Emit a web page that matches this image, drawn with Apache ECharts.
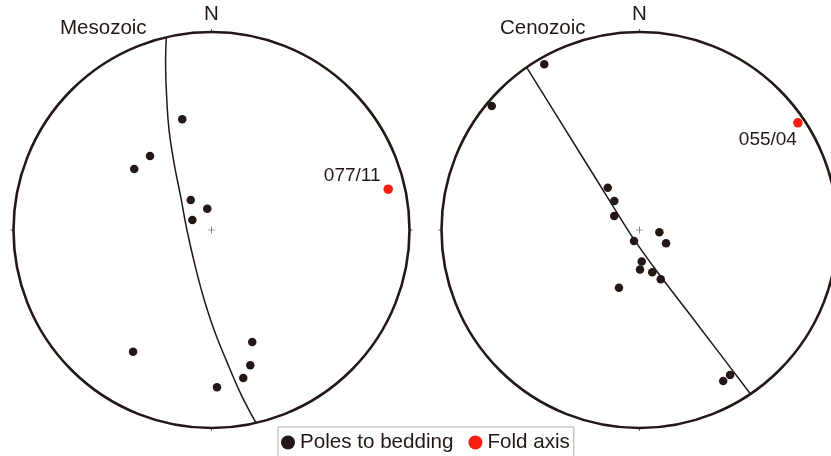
<!DOCTYPE html>
<html>
<head>
<meta charset="utf-8">
<script src="https://cdn.jsdelivr.net/npm/echarts@6/dist/echarts.min.js"></script>
<style>
html,body{margin:0;padding:0;background:#fff;}
#chart{width:831px;height:456px;}
</style>
</head>
<body>
<div id="chart"></div>
<script>
// Data: [normalized radius (0..1), azimuth in degrees clockwise from N]
const panelTitles = ['Mesozoic', 'Cenozoic'];
const northLabel = 'N';
const legendNames = ['Poles to bedding', 'Fold axis'];

const mesozoicPoles = [
  [0.578, 345.2], [0.486, 320.3], [0.497, 308.3], [0.184, 325.3],
  [0.110, 348.8], [0.109, 297.5], [0.731, 212.8], [0.602, 160.0],
  [0.711, 164.0], [0.765, 167.9], [0.795, 178.0]
];
const mesozoicFoldAxis = [[0.916, 77.0]];
const mesozoicFoldLabel = '077/11';
const mesozoicGreatCircle = [
  [1.0, 346.8], [0.873, 344.6], [0.710, 341.4], [0.549, 337.0],
  [0.386, 330.7], [0.229, 317.2], [0.124, 270.0], [0.181, 209.2],
  [0.330, 187.7], [0.495, 178.9], [0.668, 173.4], [0.845, 169.8],
  [1.0, 167.0]
];

const cenozoicPoles = [
  [0.965, 330.1], [0.974, 310.0], [0.267, 323.1], [0.194, 319.0],
  [0.146, 299.1], [0.101, 96.6], [0.150, 116.7], [0.062, 206.6],
  [0.160, 176.0], [0.199, 179.3], [0.223, 163.2], [0.271, 156.7],
  [0.309, 199.6], [0.863, 148.0], [0.872, 151.0]
];
const cenozoicFoldAxis = [[0.966, 55.9]];
const cenozoicFoldLabel = '055/04';
const cenozoicGreatCircle = [
  [1.0, 325.25], [0.480, 322.1], [0.250, 316.6], [0.051, 250.8],
  [0.218, 157.7], [0.563, 148.4], [1.0, 145.9]
];

const centerMark = [[0, 0]];

const INK = '#231815';
const RED = '#fa1e0e';
const FONT = "'Liberation Sans', Arial, sans-serif";

function angleAxisFor(i) {
  return {
    polarIndex: i, type: 'value', min: 0, max: 360, interval: 90,
    startAngle: 90, clockwise: true,
    axisLine: { lineStyle: { color: INK, width: 2.6 } },
    axisTick: { show: true, length: 3, lineStyle: { color: '#666', width: 1 } },
    axisLabel: {
      margin: 7, fontSize: 20.5, color: INK, fontFamily: FONT,
      formatter: v => (v === 0 ? northLabel : '')
    },
    splitLine: { show: false }, splitArea: { show: false }
  };
}
function radiusAxisFor(i) {
  return {
    polarIndex: i, type: 'value', min: 0, max: 1,
    axisLine: { show: false }, axisTick: { show: false },
    axisLabel: { show: false }, splitLine: { show: false }, splitArea: { show: false }
  };
}

const option = {
  animation: false,
  backgroundColor: '#fff',
  title: [
    { text: panelTitles[0], left: 60, top: 17.5, padding: 0,
      textStyle: { fontSize: 20.5, fontWeight: 'normal', color: INK, fontFamily: FONT } },
    { text: panelTitles[1], left: 500, top: 17.5, padding: 0,
      textStyle: { fontSize: 20.5, fontWeight: 'normal', color: INK, fontFamily: FONT } }
  ],
  legend: {
    data: legendNames, left: 278, top: 427, orient: 'horizontal',
    icon: 'circle', itemWidth: 14, itemHeight: 14, itemGap: 15,
    padding: [5, 4, 5, 3], borderColor: '#aaa', borderWidth: 1, backgroundColor: '#fff',
    textStyle: { fontSize: 20.6, color: INK, fontFamily: FONT }
  },
  polar: [
    { center: [211.5, 230], radius: 198 },
    { center: [639.5, 230], radius: 198 }
  ],
  angleAxis: [angleAxisFor(0), angleAxisFor(1)],
  radiusAxis: [radiusAxisFor(0), radiusAxisFor(1)],
  series: [
    { name: 'Great circle M', type: 'line', coordinateSystem: 'polar', polarIndex: 0,
      data: mesozoicGreatCircle, symbol: 'none', smooth: 0.4,
      lineStyle: { color: INK, width: 1.5 }, z: 2 },
    { name: 'Great circle C', type: 'line', coordinateSystem: 'polar', polarIndex: 1,
      data: cenozoicGreatCircle, symbol: 'none', smooth: 0.2,
      lineStyle: { color: INK, width: 1.5 }, z: 2 },
    { name: 'center M', type: 'scatter', coordinateSystem: 'polar', polarIndex: 0,
      data: centerMark, symbol: 'path://M4.5,0h1v4.5h4.5v1h-4.5v4.5h-1v-4.5h-4.5v-1h4.5z',
      symbolSize: 7, itemStyle: { color: '#555', opacity: 1 }, silent: true, z: 2 },
    { name: 'center C', type: 'scatter', coordinateSystem: 'polar', polarIndex: 1,
      data: centerMark, symbol: 'path://M4.5,0h1v4.5h4.5v1h-4.5v4.5h-1v-4.5h-4.5v-1h4.5z',
      symbolSize: 7, itemStyle: { color: '#555', opacity: 1 }, silent: true, z: 2 },
    { name: legendNames[0], type: 'scatter', coordinateSystem: 'polar', polarIndex: 0,
      data: mesozoicPoles, symbol: 'circle', symbolSize: 8.5,
      itemStyle: { color: INK, opacity: 1 }, z: 3 },
    { name: legendNames[0], type: 'scatter', coordinateSystem: 'polar', polarIndex: 1,
      data: cenozoicPoles, symbol: 'circle', symbolSize: 8.5,
      itemStyle: { color: INK, opacity: 1 }, z: 3 },
    { name: legendNames[1], type: 'scatter', coordinateSystem: 'polar', polarIndex: 0,
      data: mesozoicFoldAxis, symbol: 'circle', symbolSize: 9.5,
      itemStyle: { color: RED, opacity: 1 }, z: 4,
      label: { show: true, position: 'inside', offset: [-36, -13], opacity: 1,
        formatter: () => mesozoicFoldLabel, fontSize: 19, color: INK, fontFamily: FONT } },
    { name: legendNames[1], type: 'scatter', coordinateSystem: 'polar', polarIndex: 1,
      data: cenozoicFoldAxis, symbol: 'circle', symbolSize: 9.5,
      itemStyle: { color: RED, opacity: 1 }, z: 4,
      label: { show: true, position: 'inside', offset: [-30, 17], opacity: 1,
        formatter: () => cenozoicFoldLabel, fontSize: 19, color: INK, fontFamily: FONT } }
  ]
};

const chart = echarts.init(document.getElementById('chart'), null, { renderer: 'canvas' });
chart.setOption(option);
</script>
</body>
</html>
